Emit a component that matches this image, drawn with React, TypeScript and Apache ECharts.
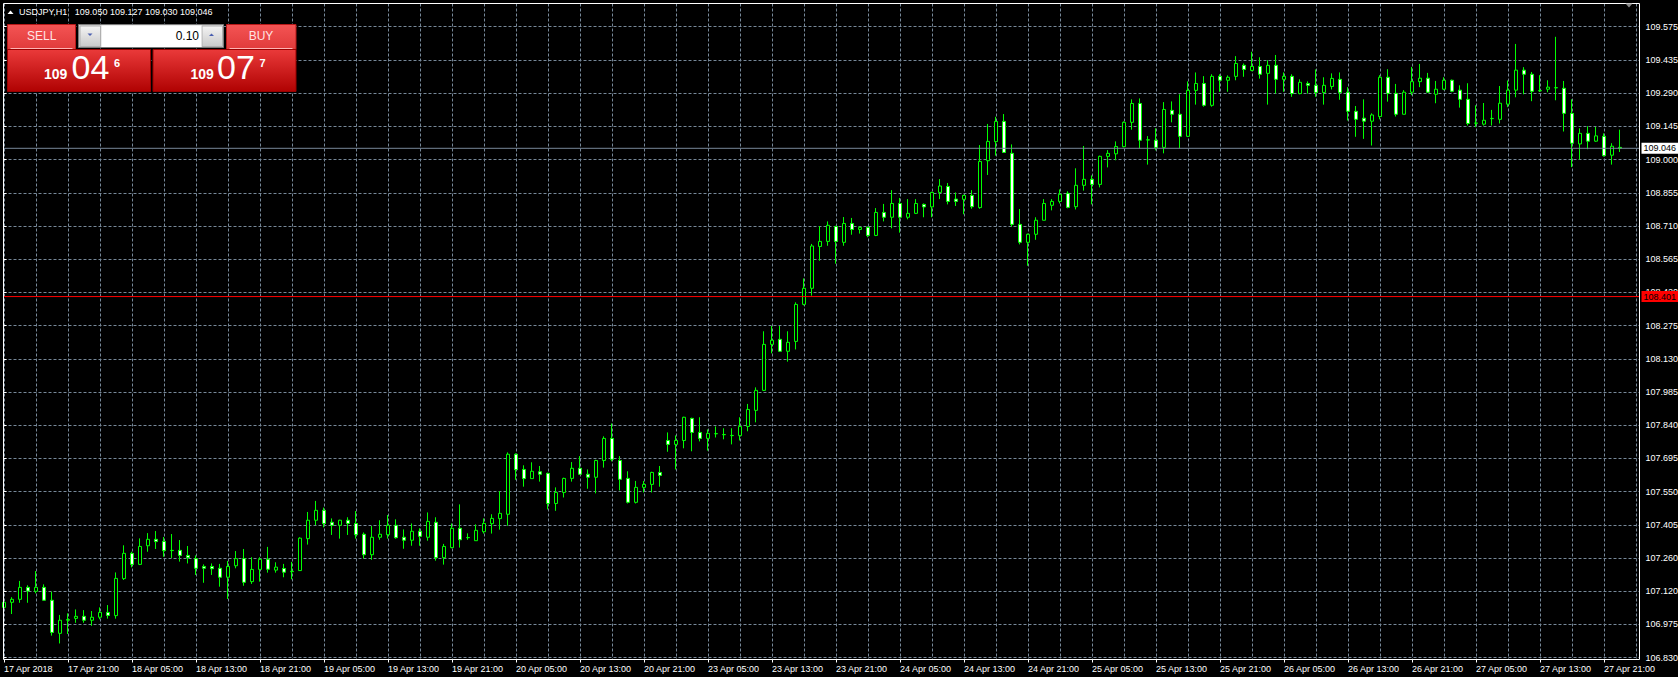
import React, { useEffect, useRef } from "react";
import * as echarts from "echarts";

// ---------- data ----------
const symbolName = "USDJPY,H1";
const sessions: [string, number, number][] = [
  ["17 Apr", 13, 23], ["18 Apr", 0, 23], ["19 Apr", 0, 23], ["20 Apr", 0, 23],
  ["23 Apr", 0, 23], ["24 Apr", 0, 23], ["25 Apr", 0, 23], ["26 Apr", 0, 23], ["27 Apr", 0, 23],
];
const xTickLabels = [
  "17 Apr 2018", "17 Apr 21:00", "18 Apr 05:00", "18 Apr 13:00", "18 Apr 21:00", "19 Apr 05:00",
  "19 Apr 13:00", "19 Apr 21:00", "20 Apr 05:00", "20 Apr 13:00", "20 Apr 21:00", "23 Apr 05:00",
  "23 Apr 13:00", "23 Apr 21:00", "24 Apr 05:00", "24 Apr 13:00", "24 Apr 21:00", "25 Apr 05:00",
  "25 Apr 13:00", "25 Apr 21:00", "26 Apr 05:00", "26 Apr 13:00", "26 Apr 21:00", "27 Apr 05:00",
  "27 Apr 13:00", "27 Apr 21:00",
];
const yTickLabels = [
  "106.830", "106.975", "107.120", "107.260", "107.405", "107.550", "107.695", "107.840", "107.985",
  "108.130", "108.275", "108.420", "108.565", "108.710", "108.855", "109.000", "109.145", "109.290",
  "109.435", "109.575",
];

const opens = [
  107.049, 107.071, 107.084, 107.136, 107.119, 107.136, 107.080, 106.936, 106.993, 107.001,
  107.010, 106.993, 107.006, 107.027, 107.013, 107.174, 107.284, 107.236, 107.317, 107.345,
  107.336, 107.296, 107.297, 107.275, 107.261, 107.227, 107.227, 107.219, 107.180, 107.230,
  107.261, 107.161, 107.214, 107.258, 107.211, 107.218, 107.204, 107.209, 107.348, 107.428,
  107.471, 107.419, 107.406, 107.428, 107.414, 107.367, 107.278, 107.354, 107.365, 107.406,
  107.354, 107.341, 107.380, 107.354, 107.419, 107.265, 107.309, 107.393, 107.352, 107.339,
  107.378, 107.413, 107.435, 107.454, 107.715, 107.649, 107.609, 107.639, 107.632, 107.501,
  107.549, 107.610, 107.654, 107.628, 107.615, 107.688, 107.784, 107.688, 107.610, 107.506,
  107.571, 107.584, 107.636, 107.775, 107.758, 107.775, 107.871, 107.810, 107.784, 107.804,
  107.800, 107.796, 107.796, 107.836, 107.906, 107.993, 108.193, 108.215, 108.163, 108.206,
  108.367, 108.437, 108.619, 108.641, 108.706, 108.637, 108.719, 108.693, 108.702, 108.667,
  108.767, 108.746, 108.806, 108.746, 108.763, 108.802, 108.791, 108.854, 108.880, 108.825,
  108.824, 108.841, 108.788, 108.992, 109.075, 109.163, 109.024, 108.715, 108.637, 108.672,
  108.733, 108.798, 108.815, 108.850, 108.792, 108.885, 108.911, 108.889, 109.011, 109.022,
  109.053, 109.159, 109.241, 109.082, 109.081, 109.050, 109.211, 109.194, 109.098, 109.298,
  109.328, 109.233, 109.359, 109.342, 109.359, 109.407, 109.385, 109.402, 109.372, 109.407,
  109.346, 109.359, 109.284, 109.328, 109.320, 109.289, 109.315, 109.346, 109.290, 109.207,
  109.177, 109.164, 109.184, 109.355, 109.285, 109.194, 109.290, 109.336, 109.351, 109.281,
  109.303, 109.342, 109.299, 109.259, 109.155, 109.151, 109.175, 109.172, 109.238, 109.299,
  109.386, 109.368, 109.296, 109.303, 109.309, 109.307, 109.198, 109.065, 109.111, 109.077,
  109.098, 109.016, 109.050,
];
const closes = [
  107.071, 107.084, 107.136, 107.120, 107.136, 107.080, 106.940, 106.993, 106.996, 107.010,
  106.993, 107.006, 107.027, 107.014, 107.175, 107.284, 107.236, 107.314, 107.345, 107.335,
  107.296, 107.297, 107.275, 107.265, 107.219, 107.219, 107.217, 107.180, 107.227, 107.261,
  107.158, 107.214, 107.258, 107.215, 107.224, 107.202, 107.206, 107.350, 107.428, 107.471,
  107.414, 107.406, 107.428, 107.414, 107.365, 107.278, 107.354, 107.367, 107.406, 107.352,
  107.341, 107.380, 107.358, 107.423, 107.265, 107.314, 107.393, 107.343, 107.353, 107.384,
  107.414, 107.436, 107.458, 107.715, 107.648, 107.609, 107.641, 107.628, 107.501, 107.549,
  107.610, 107.654, 107.628, 107.615, 107.688, 107.784, 107.693, 107.606, 107.506, 107.571,
  107.584, 107.636, 107.623, 107.758, 107.775, 107.876, 107.810, 107.784, 107.806, 107.805,
  107.801, 107.797, 107.836, 107.910, 107.993, 108.193, 108.211, 108.163, 108.202, 108.367,
  108.437, 108.621, 108.641, 108.711, 108.641, 108.719, 108.693, 108.702, 108.667, 108.767,
  108.746, 108.806, 108.746, 108.763, 108.806, 108.791, 108.854, 108.882, 108.815, 108.815,
  108.841, 108.792, 108.989, 109.076, 109.163, 109.028, 108.715, 108.637, 108.672, 108.733,
  108.806, 108.815, 108.846, 108.789, 108.885, 108.911, 108.889, 109.011, 109.024, 109.054,
  109.159, 109.241, 109.081, 109.083, 109.050, 109.215, 109.194, 109.098, 109.298, 109.328,
  109.233, 109.359, 109.342, 109.355, 109.415, 109.389, 109.402, 109.368, 109.407, 109.346,
  109.359, 109.284, 109.333, 109.320, 109.289, 109.320, 109.350, 109.289, 109.207, 109.172,
  109.164, 109.191, 109.355, 109.285, 109.194, 109.290, 109.336, 109.351, 109.290, 109.303,
  109.342, 109.294, 109.259, 109.154, 109.156, 109.168, 109.176, 109.242, 109.299, 109.386,
  109.368, 109.294, 109.297, 109.312, 109.310, 109.198, 109.068, 109.111, 109.077, 109.100,
  109.014, 109.055, 109.046,
];
const lows = [
  107.023, 107.020, 107.069, 107.069, 107.110, 107.080, 106.926, 106.892, 106.933, 106.982,
  106.982, 106.969, 106.997, 107.000, 107.000, 107.168, 107.223, 107.233, 107.291, 107.303,
  107.269, 107.264, 107.248, 107.240, 107.190, 107.156, 107.190, 107.139, 107.085, 107.219,
  107.143, 107.151, 107.161, 107.200, 107.200, 107.180, 107.171, 107.209, 107.322, 107.407,
  107.397, 107.364, 107.348, 107.364, 107.348, 107.261, 107.256, 107.343, 107.348, 107.348,
  107.304, 107.317, 107.317, 107.339, 107.252, 107.235, 107.306, 107.309, 107.343, 107.339,
  107.370, 107.370, 107.387, 107.404, 107.604, 107.574, 107.609, 107.596, 107.475, 107.469,
  107.527, 107.596, 107.625, 107.565, 107.545, 107.657, 107.684, 107.558, 107.501, 107.501,
  107.549, 107.549, 107.574, 107.726, 107.649, 107.741, 107.728, 107.771, 107.731, 107.788,
  107.780, 107.758, 107.775, 107.815, 107.854, 107.990, 108.154, 108.160, 108.118, 108.171,
  108.363, 108.405, 108.557, 108.622, 108.544, 108.622, 108.670, 108.675, 108.659, 108.664,
  108.728, 108.698, 108.679, 108.737, 108.760, 108.746, 108.746, 108.825, 108.802, 108.795,
  108.759, 108.783, 108.783, 108.930, 109.014, 109.026, 108.705, 108.628, 108.535, 108.648,
  108.733, 108.776, 108.806, 108.785, 108.780, 108.862, 108.802, 108.876, 108.963, 108.994,
  109.050, 109.127, 109.046, 108.975, 109.037, 109.024, 109.159, 109.046, 109.095, 109.236,
  109.227, 109.227, 109.292, 109.292, 109.342, 109.357, 109.381, 109.349, 109.236, 109.284,
  109.292, 109.270, 109.281, 109.284, 109.270, 109.236, 109.302, 109.257, 109.167, 109.096,
  109.087, 109.058, 109.172, 109.249, 109.184, 109.194, 109.277, 109.312, 109.287, 109.242,
  109.299, 109.290, 109.223, 109.145, 109.138, 109.145, 109.145, 109.154, 109.225, 109.268,
  109.281, 109.251, 109.291, 109.290, 109.255, 109.119, 108.964, 108.997, 109.042, 109.074,
  109.010, 108.975, 109.030,
];
const highs = [
  107.088, 107.093, 107.164, 107.145, 107.207, 107.149, 107.117, 107.016, 107.023, 107.040,
  107.037, 107.033, 107.049, 107.059, 107.201, 107.319, 107.291, 107.349, 107.372, 107.381,
  107.355, 107.368, 107.342, 107.316, 107.275, 107.236, 107.240, 107.238, 107.251, 107.294,
  107.303, 107.267, 107.267, 107.312, 107.245, 107.238, 107.247, 107.354, 107.464, 107.512,
  107.483, 107.436, 107.430, 107.441, 107.468, 107.375, 107.403, 107.428, 107.451, 107.432,
  107.388, 107.414, 107.393, 107.462, 107.441, 107.325, 107.414, 107.497, 107.371, 107.410,
  107.436, 107.454, 107.555, 107.723, 107.719, 107.667, 107.680, 107.664, 107.635, 107.571,
  107.613, 107.681, 107.707, 107.649, 107.691, 107.793, 107.849, 107.707, 107.641, 107.599,
  107.599, 107.639, 107.664, 107.810, 107.797, 107.878, 107.874, 107.876, 107.823, 107.836,
  107.828, 107.828, 107.876, 107.934, 108.006, 108.250, 108.273, 108.273, 108.250, 108.376,
  108.480, 108.630, 108.708, 108.728, 108.709, 108.747, 108.743, 108.706, 108.706, 108.786,
  108.804, 108.864, 108.830, 108.825, 108.825, 108.806, 108.857, 108.912, 108.895, 108.854,
  108.844, 108.864, 109.060, 109.152, 109.183, 109.195, 109.063, 108.782, 108.675, 108.746,
  108.825, 108.825, 108.867, 108.859, 108.959, 109.056, 108.928, 109.014, 109.038, 109.076,
  109.163, 109.259, 109.263, 109.099, 109.133, 109.247, 109.250, 109.281, 109.337, 109.376,
  109.360, 109.368, 109.368, 109.363, 109.447, 109.415, 109.466, 109.442, 109.429, 109.452,
  109.376, 109.368, 109.346, 109.337, 109.389, 109.355, 109.372, 109.376, 109.312, 109.230,
  109.259, 109.198, 109.364, 109.390, 109.326, 109.299, 109.400, 109.413, 109.374, 109.339,
  109.355, 109.345, 109.320, 109.329, 109.233, 109.243, 109.213, 109.317, 109.341, 109.500,
  109.399, 109.378, 109.364, 109.342, 109.531, 109.339, 109.259, 109.133, 109.142, 109.139,
  109.111, 109.068, 109.127,
];

const askPrice = 109.077;
const alertLevel = 108.401;
const lotSize = "0.10";

// ---------- derived ----------
const categories: string[] = [];
sessions.forEach(([day, from, to]) => {
  for (let h = from; h <= to; h++) categories.push(`${day} ${String(h).padStart(2, "0")}:00`);
});
categories.push(" ", "  ");

const candleData = opens.map((o, i) => [o, closes[i], lows[i], highs[i]]);
const last = opens.length - 1;
const bidPrice = closes[last];
const headerText = `${symbolName}   ${[opens[last], highs[last], lows[last], closes[last]]
  .map((v) => v.toFixed(3)).join(" ")}`;

const splitPrice = (p: number) => {
  const s = p.toFixed(3);
  return [s.slice(0, 3), s.slice(4, 6), s.slice(6)];
};

const FONT = '"Liberation Sans", Arial, sans-serif';
const GRID_COLOR = "#778899";
const GREEN = "#00ff00";

function buildOption(): any {
  const [bid1, bid2, bid3] = splitPrice(bidPrice);
  const [ask1, ask2, ask3] = splitPrice(askPrice);
  const headerGrad = () =>
    new echarts.graphic.LinearGradient(0, 0, 0, 1, [
      { offset: 0, color: "#f45454" },
      { offset: 1, color: "#e03a3a" },
    ]);
  const bodyGrad = () =>
    new echarts.graphic.LinearGradient(0, 0, 0, 1, [
      { offset: 0, color: "#ea3a3a" },
      { offset: 1, color: "#b00202" },
    ]);
  const btnGrad = () =>
    new echarts.graphic.LinearGradient(0, 0, 0, 1, [
      { offset: 0, color: "#f4f4f4" },
      { offset: 1, color: "#c9c9c9" },
    ]);
  const txt = (text: string, x: number, y: number, size: number, opts: any = {}) => ({
    type: "text",
    x,
    y,
    z: 110,
    silent: true,
    style: {
      text,
      fill: opts.fill || "#ffffff",
      fontSize: size,
      fontFamily: FONT,
      fontWeight: opts.weight || "normal",
      align: opts.align || "left",
      verticalAlign: "middle",
    },
  });

  return {
    animation: false,
    backgroundColor: "#000000",
    grid: [
      { left: 4, top: 3.5, width: 1632, height: 656, outerBoundsMode: "none", containLabel: false },
      { left: 3.5, top: 26.7, width: 1636, height: 631, outerBoundsMode: "none", containLabel: false },
    ],
    xAxis: [
      {
        gridIndex: 0,
        type: "category",
        data: categories,
        boundaryGap: false,
        axisLine: { show: false },
        axisTick: { show: true, interval: 7, length: 3, lineStyle: { color: "#ffffff" } },
        axisLabel: {
          interval: 7,
          color: "#ffffff",
          fontSize: 9,
          fontFamily: FONT,
          align: "left",
          margin: 5,
          hideOverlap: false,
          formatter: (_v: string, i: number) => xTickLabels[i / 8] ?? "",
        },
        splitLine: { show: true, interval: 3, lineStyle: { color: GRID_COLOR, type: [3, 2], width: 1 } },
      },
      { gridIndex: 1, type: "value", min: 0, max: 1, show: false },
    ],
    yAxis: [
      { gridIndex: 0, type: "value", min: 106.8222, max: 109.6759, show: false, splitLine: { show: false } },
      {
        gridIndex: 1,
        type: "category",
        data: yTickLabels,
        boundaryGap: false,
        position: "right",
        axisLine: { show: false },
        axisTick: { show: true, interval: 0, length: 3, lineStyle: { color: "#ffffff" } },
        axisLabel: { interval: 0, color: "#ffffff", fontSize: 9, fontFamily: FONT, margin: 6 },
        splitLine: { show: true, interval: 0, lineStyle: { color: GRID_COLOR, type: [3, 2], width: 1 } },
      },
      { gridIndex: 1, type: "value", min: 106.83, max: 109.575, show: false, position: "left" },
    ],
    series: [
      {
        type: "candlestick",
        xAxisIndex: 0,
        yAxisIndex: 0,
        data: candleData,
        barWidth: 4,
        clip: true,
        z: 3,
        itemStyle: {
          color: "#000000",
          color0: "#ffffff",
          borderColor: GREEN,
          borderColor0: GREEN,
          borderColorDoji: GREEN,
          borderWidth: 1,
        },
      },
      {
        type: "line",
        xAxisIndex: 1,
        yAxisIndex: 2,
        data: [[0, alertLevel], [1, alertLevel]],
        symbol: "none",
        silent: true,
        clip: false,
        z: 4,
        lineStyle: { color: "#ff0000", width: 1 },
        endLabel: {
          show: true,
          formatter: () => alertLevel.toFixed(3),
          backgroundColor: "#ff0000",
          color: "#000000",
          fontSize: 9,
          fontFamily: FONT,
          padding: [1, 4, 1, 2],
          distance: 2,
        },
      },
      {
        type: "line",
        xAxisIndex: 1,
        yAxisIndex: 2,
        data: [[0, bidPrice], [1, bidPrice]],
        symbol: "none",
        silent: true,
        clip: false,
        z: 4,
        lineStyle: { color: GRID_COLOR, width: 1 },
        endLabel: {
          show: true,
          formatter: () => bidPrice.toFixed(3),
          backgroundColor: "#ffffff",
          color: "#000000",
          fontSize: 9,
          fontFamily: FONT,
          padding: [1, 4, 1, 2],
          distance: 2,
        },
      },
    ],
    graphic: [
      // frame
      {
        type: "rect",
        z: 100,
        silent: true,
        shape: { x: 3.5, y: 3.5, width: 1636, height: 656 },
        style: { fill: "none", stroke: "#ffffff", lineWidth: 1 },
      },
      // shift marker
      {
        type: "polygon",
        z: 101,
        silent: true,
        shape: { points: [[1625.5, 3.5], [1632.5, 3.5], [1629, 7.5]] },
        style: { fill: "#8a8a8a" },
      },
      // header
      {
        type: "polygon",
        z: 110,
        silent: true,
        shape: { points: [[7.5, 14], [13.5, 14], [10.5, 10.5]] },
        style: { fill: "#ffffff" },
      },
      txt(headerText, 19, 12, 9),
      // SELL block
      {
        type: "rect", z: 105, silent: true,
        shape: { x: 7.5, y: 24.5, width: 68, height: 25 },
        style: { fill: headerGrad(), stroke: "#b81818", lineWidth: 1 },
      },
      {
        type: "line", z: 106, silent: true,
        shape: { x1: 10.5, y1: 48.5, x2: 72.5, y2: 48.5 },
        style: { stroke: "#ffb4b4", lineWidth: 1 },
      },
      {
        type: "rect", z: 105, silent: true,
        shape: { x: 7.5, y: 49.5, width: 143, height: 42 },
        style: { fill: bodyGrad(), stroke: "#9a0000", lineWidth: 1 },
      },
      // BUY block
      {
        type: "rect", z: 105, silent: true,
        shape: { x: 226.5, y: 24.5, width: 69.5, height: 25 },
        style: { fill: headerGrad(), stroke: "#b81818", lineWidth: 1 },
      },
      {
        type: "line", z: 106, silent: true,
        shape: { x1: 229.5, y1: 48.5, x2: 292.5, y2: 48.5 },
        style: { stroke: "#ffb4b4", lineWidth: 1 },
      },
      {
        type: "rect", z: 105, silent: true,
        shape: { x: 153, y: 49.5, width: 143, height: 42 },
        style: { fill: bodyGrad(), stroke: "#9a0000", lineWidth: 1 },
      },
      // lot box
      {
        type: "rect", z: 105, silent: true,
        shape: { x: 78.5, y: 24.5, width: 145, height: 23 },
        style: { fill: "#d6d6d6", stroke: "#7a7a7a", lineWidth: 1 },
      },
      {
        type: "rect", z: 106, silent: true,
        shape: { x: 80, y: 26, width: 20.5, height: 20.5 },
        style: { fill: btnGrad(), stroke: "#b0b0b0", lineWidth: 1 },
      },
      {
        type: "rect", z: 106, silent: true,
        shape: { x: 202, y: 26, width: 20.5, height: 20.5 },
        style: { fill: btnGrad(), stroke: "#b0b0b0", lineWidth: 1 },
      },
      {
        type: "rect", z: 106, silent: true,
        shape: { x: 101.5, y: 25.5, width: 100, height: 21.5 },
        style: { fill: "#ffffff" },
      },
      {
        type: "polygon", z: 107, silent: true,
        shape: { points: [[87.5, 33.5], [92.5, 33.5], [90, 36]] },
        style: { fill: "#4a5fb0" },
      },
      {
        type: "polygon", z: 107, silent: true,
        shape: { points: [[209, 36], [214, 36], [211.5, 33.5]] },
        style: { fill: "#4a5fb0" },
      },
      txt(lotSize, 199, 35.5, 12, { fill: "#000000", align: "right" }),
      txt("SELL", 41.7, 35.5, 12, { fill: "#ffe4e4", align: "center" }),
      txt("BUY", 261, 35.5, 12, { fill: "#ffe4e4", align: "center" }),
      txt(bid1, 44, 74.3, 14, { weight: "bold" }),
      txt(bid2, 71.5, 66.5, 34),
      txt(bid3, 114, 63, 11, { weight: "bold" }),
      txt(ask1, 190.5, 74.3, 14, { weight: "bold" }),
      txt(ask2, 217, 66.5, 34),
      txt(ask3, 259.5, 63, 11, { weight: "bold" }),
    ],
  };
}

export default function App() {
  const ref = useRef<HTMLDivElement>(null);
  useEffect(() => {
    document.body.style.margin = "0";
    document.body.style.background = "#000000";
    const chart = echarts.init(ref.current!, null, { renderer: "svg" });
    chart.setOption(buildOption());
    return () => chart.dispose();
  }, []);
  return <div ref={ref} style={{ width: 1678, height: 677, background: "#000000" }} />;
}
